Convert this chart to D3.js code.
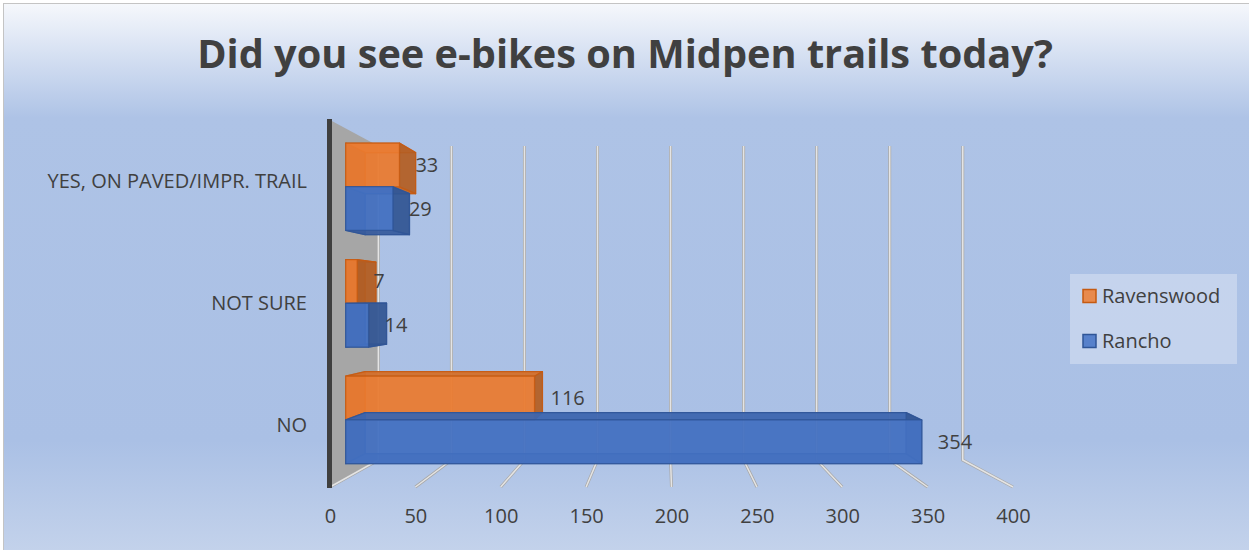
<!DOCTYPE html>
<html>
<head>
<meta charset="utf-8">
<script src="https://cdn.jsdelivr.net/npm/d3@7"></script>
<style>
  html, body { margin: 0; padding: 0; background: #ffffff; }
  #chart { width: 1249px; height: 550px; }
  text { font-family: "Open Sans", sans-serif; fill: #404040; }
</style>
</head>
<body>
<div id="chart"></div>
<script>
// data
var categories = ["YES, ON PAVED/IMPR. TRAIL", "NOT SURE", "NO"];
var seriesNames = ["Ravenswood", "Rancho"];
var ravenswood = [33, 7, 116];
var rancho = [29, 14, 354];
var xTicks = [0, 50, 100, 150, 200, 250, 300, 350, 400];
var seriesColors = ["#ed7d31", "#4472c4"];
var seriesStroke = ["#c55a11", "#2f5597"];

var width = 1249, height = 550;
var svg = d3.select("#chart").append("svg")
    .attr("width", width)
    .attr("height", height);

// background gradient
var defs = svg.append("defs");
var grad = defs.append("linearGradient").attr("id", "bg")
    .attr("gradientUnits", "userSpaceOnUse")
    .attr("x1", 0).attr("y1", 3).attr("x2", 0).attr("y2", 550);
grad.append("stop").attr("offset", "0").attr("stop-color", "#f6f8fc");
grad.append("stop").attr("offset", "0.21").attr("stop-color", "#aec3e6");
grad.append("stop").attr("offset", "0.8").attr("stop-color", "#aac0e5");
grad.append("stop").attr("offset", "1").attr("stop-color", "#c3d2eb");

svg.append("rect")
    .attr("x", 3.5).attr("y", 3.5)
    .attr("width", 1260).attr("height", 560)
    .attr("fill", "url(#bg)")
    .attr("stroke", "#c4c4c4")
    .attr("stroke-width", 1);

// scales (front plane)
var plotTop = 120, plotBottom = 487;
var xScale = d3.scaleLinear().domain([0, 400]).range([330, 1013]);
var yScale = d3.scaleBand().domain(categories)
    .range([plotTop, plotBottom])
    .paddingInner(0.25)
    .paddingOuter(0.125);
var ySub = d3.scaleBand().domain(seriesNames).range([0, yScale.bandwidth()]);

// perspective
var vp = [665, 300];
var sWall = 0.8556, sFront = 0.953, sBack = 0.895;
function P(v, y, s) {
  var x = xScale(v);
  return [vp[0] + (x - vp[0]) * s, vp[1] + (y - vp[1]) * s];
}
function poly(pts) { return pts.map(function(p){ return p[0] + "," + p[1]; }).join(" "); }

// side wall
svg.append("polygon")
    .attr("points", poly([P(0, plotTop, 1), P(0, plotTop, sWall), P(0, plotBottom, sWall), P(0, plotBottom, 1)]))
    .attr("fill", "#a6a6a6");

// gridlines (back wall + floor)
var grid = svg.append("g");
xTicks.forEach(function(v) {
  var pts = [P(v, plotTop, sWall), P(v, plotBottom, sWall), P(v, plotBottom, 1)];
  grid.append("polyline").attr("points", poly(pts))
      .attr("fill", "none").attr("stroke", "#a9a9a9").attr("stroke-width", 3);
  grid.append("polyline").attr("points", poly(pts))
      .attr("fill", "none").attr("stroke", "#e4e4e4").attr("stroke-width", 1.5);
});

// dark axis edge
svg.append("line")
    .attr("x1", 329.5).attr("x2", 329.5)
    .attr("y1", 119).attr("y2", 488)
    .attr("stroke", "#3f3f3f").attr("stroke-width", 5);

// bars
var barData = [];
categories.forEach(function(c, i) {
  barData.push({ cat: c, series: "Ravenswood", value: ravenswood[i], k: 0 });
  barData.push({ cat: c, series: "Rancho", value: rancho[i], k: 1 });
});

var bars = svg.append("g");
barData.forEach(function(d) {
  var y0 = yScale(d.cat) + ySub(d.series);
  var y1 = y0 + ySub.bandwidth();
  var v = d.value;
  var base = d3.color(seriesColors[d.k]);
  var faces = [
    { pts: [P(0,y0,sBack), P(v,y0,sBack), P(v,y1,sBack), P(0,y1,sBack)], dk: 0.5, op: 0.6 },
    { pts: [P(0,y0,sFront), P(0,y0,sBack), P(0,y1,sBack), P(0,y1,sFront)], dk: 0.8, op: 0.85 },
    { pts: [P(0,y1,sFront), P(v,y1,sFront), P(v,y1,sBack), P(0,y1,sBack)], dk: 0.6, op: 0.85 },
    { pts: [P(0,y0,sFront), P(v,y0,sFront), P(v,y0,sBack), P(0,y0,sBack)], dk: 0.3, op: 0.85 },
    { pts: [P(v,y0,sFront), P(v,y0,sBack), P(v,y1,sBack), P(v,y1,sFront)], dk: 0.8, op: 0.85 },
    { pts: [P(0,y0,sFront), P(v,y0,sFront), P(v,y1,sFront), P(0,y1,sFront)], dk: 0, op: 0.85 }
  ];
  faces.forEach(function(f) {
    bars.append("polygon")
        .attr("points", poly(f.pts))
        .attr("fill", base.darker(f.dk).formatHex())
        .attr("fill-opacity", f.op)
        .attr("stroke", seriesStroke[d.k])
        .attr("stroke-opacity", 0.8)
        .attr("stroke-width", 1.2)
        .attr("stroke-linejoin", "round");
  });
  // data label
  var lp = P(v, (y0 + y1) / 2, sFront);
  svg.append("text")
      .attr("x", lp[0] + 16)
      .attr("y", lp[1] + 7)
      .attr("font-size", "20px")
      .text(v);
});

// x axis labels
var xAxis = d3.axisBottom(xScale).tickValues(xTicks).tickSize(0).tickPadding(0);
var gx = svg.append("g")
    .attr("transform", "translate(0,509)")
    .call(xAxis);
gx.select(".domain").remove();
gx.selectAll("text").attr("font-size", "20px").attr("fill", "#404040")
    .style("font-family", "'Open Sans', sans-serif");

// category labels
var yAxis = d3.axisLeft(yScale).tickSize(0).tickPadding(0);
var gy = svg.append("g")
    .attr("transform", "translate(307,0)")
    .call(yAxis);
gy.select(".domain").remove();
gy.selectAll("text").attr("font-size", "20px").attr("fill", "#404040")
    .style("font-family", "'Open Sans', sans-serif");

// title
var title = svg.append("text")
    .attr("x", 625)
    .attr("y", 68)
    .attr("text-anchor", "middle")
    .attr("font-weight", "bold")
    .attr("font-size", "38px")
    .text("Did you see e-bikes on Midpen trails today?");
var tw = title.node().getComputedTextLength();
title.attr("font-size", (38 * 856 / tw) + "px");

// legend
var legend = svg.append("g");
legend.append("rect")
    .attr("x", 1070).attr("y", 274)
    .attr("width", 167).attr("height", 90)
    .attr("fill", "#ffffff").attr("fill-opacity", 0.3);
seriesNames.forEach(function(name, i) {
  var ly = 296 + i * 45;
  legend.append("rect")
      .attr("x", 1083).attr("y", ly - 6.5)
      .attr("width", 13).attr("height", 13)
      .attr("fill", seriesColors[i]).attr("fill-opacity", 0.85)
      .attr("stroke", seriesStroke[i]).attr("stroke-width", 1.5);
  legend.append("text")
      .attr("x", 1102).attr("y", ly + 7)
      .attr("font-size", "20px")
      .text(name);
});
</script>
</body>
</html>
